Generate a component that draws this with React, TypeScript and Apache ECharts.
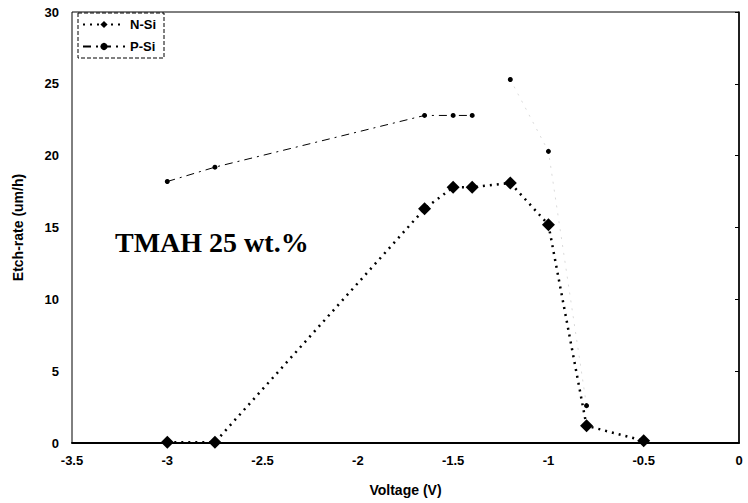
import React, { useEffect, useRef } from "react";
import * as echarts from "echarts";

const nSiX = [-3, -2.75, -1.65, -1.5, -1.4, -1.2, -1.0, -0.8, -0.5];
const nSiY = [0.05, 0.05, 16.3, 17.8, 17.8, 18.1, 15.2, 1.2, 0.15];

const pSiX = [-3, -2.75, -1.65, -1.5, -1.4, -1.2, -1.0, -0.8];
const pSiY = [18.2, 19.2, 22.8, 22.8, 22.8, 25.3, 20.3, 2.6];

const xTicks = [-3.5, -3, -2.5, -2, -1.5, -1, -0.5, 0];
const yTicks = [0, 5, 10, 15, 20, 25, 30];

const annotation = "TMAH 25 wt.%";

export default function App() {
  const ref = useRef<HTMLDivElement>(null);
  useEffect(() => {
    if (!ref.current) return;
    const chart = echarts.init(ref.current, null, { renderer: "svg" });
    const font = "'Liberation Sans', Arial, sans-serif";
    const nData = nSiX.map((x, i) => [x, nSiY[i]]);
    const pData = pSiX.map((x, i) => [x, pSiY[i]]);
    const pMain = pData.slice(0, 5);
    const pRest = pData.slice(5);
    chart.setOption({
      animation: false,
      backgroundColor: "#fff",
      grid: {
        left: 72,
        right: 9,
        top: 12,
        bottom: 60,
        show: true,
        borderColor: "#000",
        borderWidth: 1,
      },
      legend: {
        orient: "vertical",
        left: 78,
        top: 13,
        itemWidth: 42,
        itemHeight: 9,
        itemGap: 9,
        padding: [5, 8, 5, 4],
        borderColor: "#000",
        borderWidth: 1,
        borderType: "dashed",
        backgroundColor: "#fff",
        data: ["N-Si", "P-Si"],
        textStyle: { fontFamily: font, fontWeight: "bold", fontSize: 13, color: "#000" },
      },
      xAxis: {
        type: "value",
        min: -3.5,
        max: 0,
        interval: 0.5,
        name: "Voltage (V)",
        nameLocation: "middle",
        nameGap: 40,
        nameTextStyle: { fontFamily: font, fontWeight: "bold", fontSize: 14, color: "#000" },
        axisLine: { lineStyle: { color: "#000", width: 2 } },
        axisTick: { show: false },
        splitLine: { show: false },
        axisLabel: {
          margin: 11,
          fontFamily: font,
          fontWeight: "bold",
          fontSize: 13,
          color: "#000",
          formatter: (v: number) => {
            const t = xTicks.find((k) => Math.abs(k - v) < 1e-6);
            return t === undefined ? "" : String(t);
          },
        },
      },
      yAxis: {
        type: "value",
        min: 0,
        max: 30,
        interval: 5,
        name: "Etch-rate (um/h)",
        nameLocation: "middle",
        nameGap: 47,
        nameTextStyle: { fontFamily: font, fontWeight: "bold", fontSize: 14, color: "#000" },
        axisLine: { show: true, lineStyle: { color: "#000", width: 1.5 } },
        axisTick: { show: true, length: 4, lineStyle: { color: "#000" } },
        splitLine: { show: false },
        axisLabel: {
          margin: 13,
          fontFamily: font,
          fontWeight: "bold",
          fontSize: 13,
          color: "#000",
          formatter: (v: number) => {
            const t = yTicks.find((k) => Math.abs(k - v) < 1e-6);
            return t === undefined ? "" : String(t);
          },
        },
      },
      graphic: [
        {
          type: "text",
          x: 115,
          y: 242,
          style: {
            text: annotation,
            fontFamily: "'Liberation Serif', 'Times New Roman', serif",
            fontWeight: "bold",
            fontSize: 28,
            fill: "#000",
            textVerticalAlign: "middle",
            verticalAlign: "middle",
          },
        },
      ],
      series: [
        {
          name: "N-Si",
          type: "line",
          data: nData,
          symbol: "diamond",
          symbolSize: 13,
          itemStyle: { color: "#000" },
          lineStyle: { color: "#000", width: 2.5, type: [2, 5] },
          z: 3,
        },
        {
          name: "P-Si",
          type: "line",
          data: pMain,
          symbol: "circle",
          symbolSize: 5,
          itemStyle: { color: "#000" },
          lineStyle: { color: "#000", width: 1, type: [8, 5, 2, 5] },
          z: 2,
        },
        {
          name: "P-Si",
          type: "line",
          data: pRest,
          symbol: "circle",
          symbolSize: 5,
          itemStyle: { color: "#000" },
          lineStyle: { color: "#000", width: 1, opacity: 0.15, type: [2, 6] },
          z: 2,
        },
      ],
    });
    return () => chart.dispose();
  }, []);
  return (
    <div
      ref={ref}
      style={{ position: "absolute", left: 0, top: 0, width: 748, height: 503 }}
    />
  );
}
